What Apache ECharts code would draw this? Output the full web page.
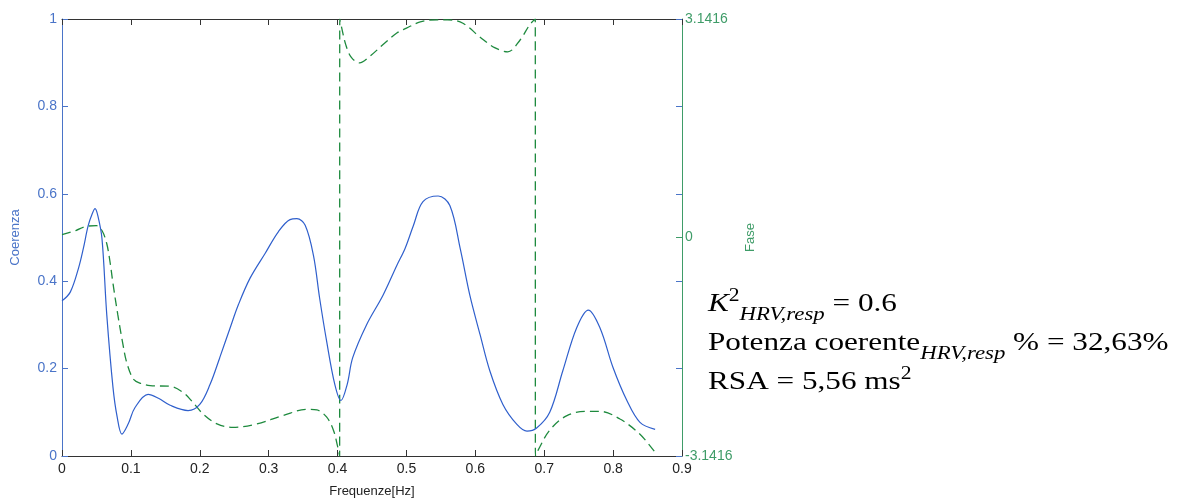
<!DOCTYPE html>
<html>
<head>
<meta charset="utf-8">
<script src="https://cdn.jsdelivr.net/npm/echarts@6/dist/echarts.min.js"></script>
<style>
html, body { margin: 0; padding: 0; background: #fff; }
#chart { width: 1180px; height: 503px; }
</style>
</head>
<body>
<div id="chart"></div>
<script>
// coerenza (blue, left axis)
var cohFreq = [0, 0.012, 0.024, 0.031, 0.038, 0.044, 0.048, 0.052, 0.058, 0.065,
    0.074, 0.08, 0.087, 0.096, 0.106, 0.125, 0.14, 0.157, 0.183, 0.2,
    0.215, 0.229, 0.244, 0.256, 0.273, 0.295, 0.314, 0.331, 0.341, 0.353,
    0.365, 0.374, 0.384, 0.396, 0.405, 0.414, 0.422, 0.442, 0.466, 0.486,
    0.498, 0.51, 0.524, 0.546, 0.563, 0.578, 0.592, 0.607, 0.621, 0.64,
    0.66, 0.675, 0.689, 0.708, 0.727, 0.747, 0.764, 0.781, 0.8, 0.82,
    0.839, 0.861];
var coh = [0.355, 0.375, 0.43, 0.475, 0.527, 0.555, 0.566, 0.55, 0.498, 0.323,
    0.157, 0.09, 0.05, 0.073, 0.111, 0.141, 0.132, 0.116, 0.104, 0.118,
    0.164, 0.225, 0.293, 0.346, 0.407, 0.464, 0.513, 0.541, 0.543, 0.528,
    0.459, 0.361, 0.264, 0.164, 0.127, 0.164, 0.225, 0.30, 0.368, 0.436,
    0.475, 0.527, 0.582, 0.595, 0.573, 0.475, 0.368, 0.277, 0.195, 0.118,
    0.073, 0.057, 0.064, 0.100, 0.195, 0.293, 0.334, 0.293, 0.202, 0.127,
    0.077, 0.061];

// fase (green, right axis, radians)
var phaseFreq = [0, 0.02, 0.035, 0.05, 0.058, 0.065, 0.07, 0.074, 0.081, 0.088, 0.094, 0.104, 0.115,
    0.128, 0.157, 0.176, 0.19, 0.205, 0.225, 0.248, 0.283, 0.321, 0.356, 0.37, 0.384, 0.394, 0.4, 0.403,
    0.4032, 0.405, 0.412, 0.42, 0.432, 0.445, 0.469, 0.486, 0.5, 0.52, 0.545, 0.56, 0.582, 0.607, 0.628, 0.647, 0.665, 0.679, 0.687,
    0.6872, 0.691, 0.708, 0.733, 0.762, 0.781, 0.81, 0.839, 0.861];
var phase = [0.04, 0.10, 0.16, 0.17, 0.10, -0.09, -0.37, -0.66, -1.11, -1.51, -1.80, -2.04, -2.10,
    -2.13, -2.14, -2.23, -2.37, -2.54, -2.68, -2.73, -2.68, -2.56, -2.47, -2.48, -2.58, -2.77, -3.0, -3.14,
    3.14, 3.06, 2.77, 2.59, 2.51, 2.59, 2.80, 2.94, 3.01, 3.10, 3.13, 3.13, 3.08, 2.88, 2.73, 2.67, 2.84, 3.06, 3.14,
    -3.14, -3.06, -2.77, -2.56, -2.50, -2.50, -2.61, -2.83, -3.09];

var xTicks = [0, 0.9, 0.1];   // min, max, step
var cohTicks = [0, 1, 0.2];

var blue = '#2f5fcc';
var blueAxis = '#4a74c8';
var green = '#1e8a3e';
var greenAxis = '#3f9c68';

var chart = echarts.init(document.getElementById('chart'));

function zip(xs, ys) {
    return xs.map(function (x, i) { return [x, ys[i]]; });
}

var option = {
    backgroundColor: '#fff',
    animation: false,
    textStyle: { fontFamily: 'Liberation Sans' },
    grid: { left: 62, right: 498, top: 19, bottom: 44 },
    xAxis: [
        {
            type: 'value', min: xTicks[0], max: xTicks[1], interval: xTicks[2],
            name: 'Frequenze[Hz]', nameLocation: 'middle', nameGap: 29,
            nameTextStyle: { color: '#222', fontSize: 13 },
            axisLine: { onZero: false, lineStyle: { color: '#333' } },
            axisTick: { inside: true, length: 6, lineStyle: { color: '#333' } },
            axisLabel: { color: '#222', fontSize: 14, margin: 6,
                formatter: function (v) { return +v.toFixed(1) + ''; } },
            splitLine: { show: false }
        },
        {
            type: 'value', position: 'top', min: xTicks[0], max: xTicks[1], interval: xTicks[2],
            axisLine: { onZero: false, lineStyle: { color: '#333' } },
            axisTick: { inside: true, length: 6, lineStyle: { color: '#333' } },
            axisLabel: { show: false },
            splitLine: { show: false }
        }
    ],
    yAxis: [
        {
            type: 'value', min: cohTicks[0], max: cohTicks[1], interval: cohTicks[2],
            name: 'Coerenza', nameLocation: 'middle', nameGap: 40,
            nameTextStyle: { color: blueAxis, fontSize: 13 },
            axisLine: { show: true, onZero: false, lineStyle: { color: blueAxis } },
            axisTick: { show: true, inside: true, length: 6, lineStyle: { color: blueAxis } },
            axisLabel: { color: blueAxis, fontSize: 14, margin: 5,
                formatter: function (v) { return +v.toFixed(1) + ''; } },
            splitLine: { show: false }
        },
        {
            type: 'value', position: 'right', min: -Math.PI, max: Math.PI, interval: Math.PI,
            name: 'Fase', nameLocation: 'middle', nameGap: 62,
            nameTextStyle: { color: greenAxis, fontSize: 13 },
            axisLine: { show: true, onZero: false, lineStyle: { color: greenAxis } },
            axisTick: { show: true, inside: true, length: 6, lineStyle: { color: greenAxis } },
            axisLabel: { color: greenAxis, fontSize: 14, margin: 3,
                formatter: function (v) { return Math.abs(v) < 1e-9 ? '0' : v.toFixed(4); } },
            splitLine: { show: false }
        },
        {
            type: 'value', position: 'right', min: cohTicks[0], max: cohTicks[1], interval: cohTicks[2],
            axisLine: { show: false, onZero: false },
            axisTick: { show: true, inside: true, length: 6, lineStyle: { color: blueAxis } },
            axisLabel: { show: false },
            splitLine: { show: false }
        }
    ],
    series: [
        {
            type: 'line', xAxisIndex: 0, yAxisIndex: 1,
            data: zip(phaseFreq, phase),
            showSymbol: false, smooth: 0.35,
            lineStyle: { color: green, width: 1.3, type: [9, 5] }
        },
        {
            type: 'line', xAxisIndex: 0, yAxisIndex: 0,
            data: zip(cohFreq, coh),
            showSymbol: false, smooth: 0.35,
            lineStyle: { color: blue, width: 1.2 }
        }
    ],
    graphic: [
        {
            type: 'text', x: 708, y: 285, scaleX: 1.2,
            style: {
                text: '{k|K}{sup|2}{sub|HRV,resp}{m| = 0.6}\n' +
                      '{m|Potenza coerente}{sub|HRV,resp}{m| % = 32,63%}\n' +
                      '{m|RSA = 5,56 ms}{sup|2}',
                align: 'left', verticalAlign: 'top',
                fill: '#000',
                rich: {
                    m: { fontFamily: 'Liberation Serif', fontSize: 26, lineHeight: 39, fill: '#000' },
                    k: { fontFamily: 'Liberation Serif', fontStyle: 'italic', fontSize: 26, lineHeight: 39, fill: '#000' },
                    sub: { fontFamily: 'Liberation Serif', fontStyle: 'italic', fontSize: 19, verticalAlign: 'bottom', fill: '#000' },
                    sup: { fontFamily: 'Liberation Serif', fontSize: 18, verticalAlign: 'top', padding: [2, 0, 0, 0], fill: '#000' }
                }
            }
        }
    ]
};

chart.setOption(option);

window.addEventListener('resize', function () {
    chart.resize();
});
</script>
</body>
</html>
